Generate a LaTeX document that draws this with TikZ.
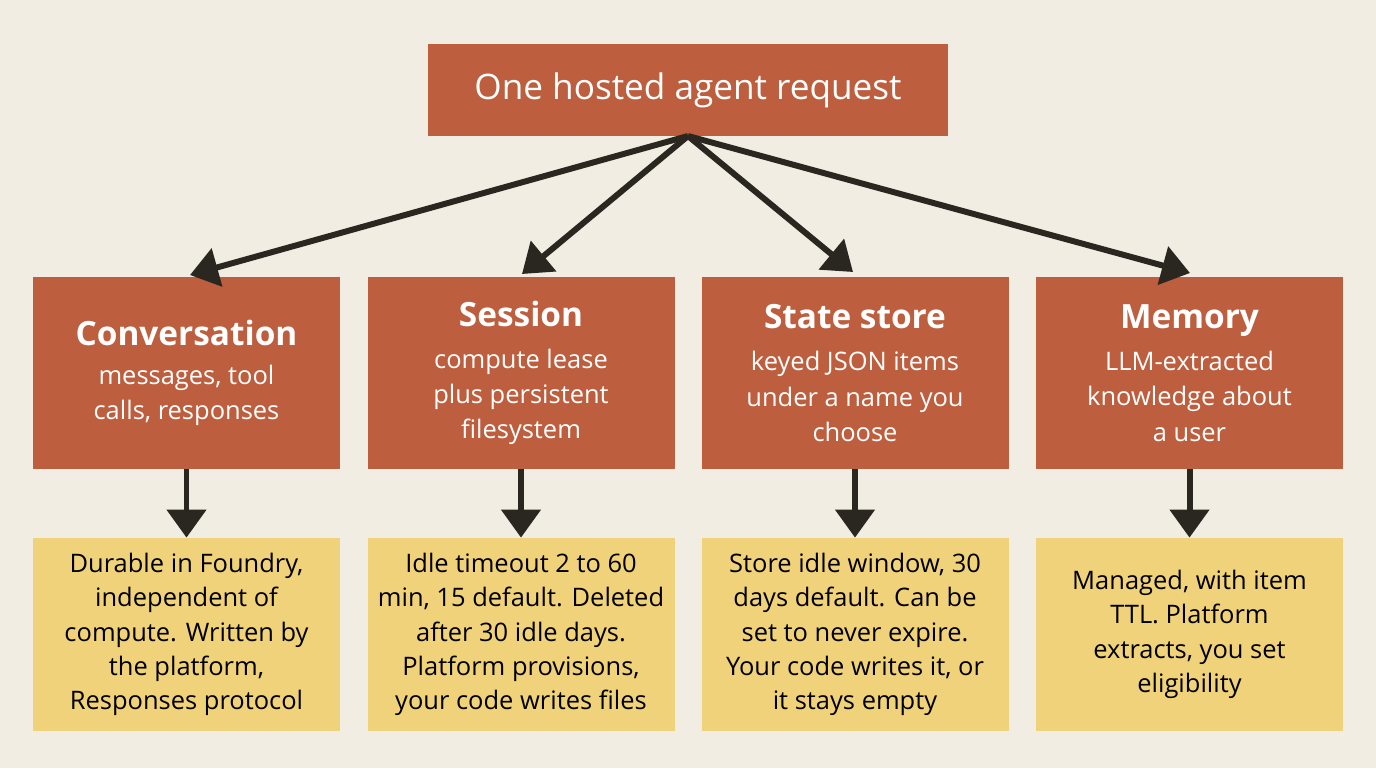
\documentclass[tikz,border=0pt]{standalone}
\usepackage{fontspec}
\setmainfont{Open Sans}
\usetikzlibrary{arrows.meta}
\definecolor{bg}{HTML}{F2EDE2}
\definecolor{rust}{HTML}{BD5F3E}
\definecolor{sand}{HTML}{F0D27A}
\definecolor{ink}{HTML}{2A2620}
\newcommand\hdf{\fontsize{19}{22}\selectfont\bfseries}
\begin{document}
\begin{tikzpicture}[x=0.02cm,y=-0.02cm,
  red/.style={fill=rust,text=white,minimum width=307*0.02cm,minimum height=192*0.02cm,align=center,inner sep=0pt,font=\fontsize{14.5}{20}\selectfont},
  yel/.style={fill=sand,text=black,minimum width=307*0.02cm,minimum height=193*0.02cm,align=center,inner sep=0pt,font=\fontsize{14.5}{19.5}\selectfont},
  arr/.style={ink,line width=3.4pt,-{Triangle[length=16pt,width=22pt]}}]
\fill[bg] (0,0) rectangle (1376,768);
\node[fill=rust,text=white,minimum width=520*0.02cm,minimum height=92*0.02cm,inner sep=0pt,font=\fontsize{20}{22}\selectfont] (top) at (688,90) {One hosted agent request};
\node[red] (c) at (186.5,373) {{\hdf Conversation}\\[2pt]messages, tool\\calls, responses};
\node[red] (s) at (521,373) {{\hdf Session}\\[4pt]compute lease\\plus persistent\\filesystem};
\node[red] (st) at (855,373) {{\hdf State store}\\[4pt]keyed JSON items\\under a name you\\choose};
\node[red] (m) at (1189.5,373) {{\hdf Memory}\\[4pt]LLM-extracted\\knowledge about\\a user};
\node[yel] (c2) at (186.5,634.5) {Durable in Foundry,\\independent of\\compute. Written by\\the platform,\\Responses protocol};
\node[yel] (s2) at (521,634.5) {Idle timeout 2 to 60\\min, 15 default. Deleted\\after 30 idle days.\\Platform provisions,\\your code writes files};
\node[yel] (st2) at (855,634.5) {Store idle window, 30\\days default. Can be\\set to never expire.\\Your code writes it, or\\it stays empty};
\node[yel] (m2) at (1189.5,634.5) {Managed, with item\\TTL. Platform\\extracts, you set\\eligibility};
\coordinate (o) at (688,136);
\draw[arr] (o) -- (190,275);
\draw[arr] (o) -- (522,274);
\draw[arr] (o) -- (853,272);
\draw[arr] (o) -- (1190,273);
\foreach \a/\b in {c/c2,s/s2,st/st2,m/m2}
  \draw[arr] (\a.south) -- (\b.north);
\end{tikzpicture}
\end{document}
